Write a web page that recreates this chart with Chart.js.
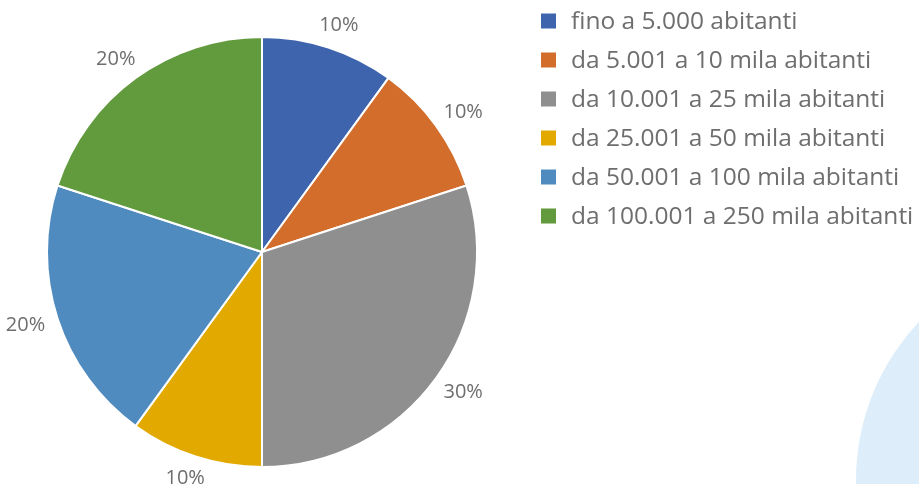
<!DOCTYPE html>
<html>
<head>
<meta charset="utf-8">
<script src="https://cdn.jsdelivr.net/npm/chart.js@4/dist/chart.umd.min.js"></script>
<style>
  html, body { margin: 0; padding: 0; background: #ffffff; }
  #wrap { position: relative; width: 919px; height: 484px; overflow: hidden; }
  #blob { position: absolute; left: 856px; top: 250px; width: 460px; height: 460px; border-radius: 50%; background: #ddeefa; }
  #c { position: absolute; left: 0; top: 0; }
</style>
</head>
<body>
<div id="wrap">
  <div id="blob"></div>
  <canvas id="c" width="919" height="484"></canvas>
</div>
<script>
const categories = [
  "fino a 5.000 abitanti",
  "da 5.001 a 10 mila abitanti",
  "da 10.001 a 25 mila abitanti",
  "da 25.001 a 50 mila abitanti",
  "da 50.001 a 100 mila abitanti",
  "da 100.001 a 250 mila abitanti"
];
const shares = [10, 10, 30, 10, 20, 20];
const valueLabels = ["10%", "10%", "30%", "10%", "20%", "20%"];
const sliceColors = ["#3e64ae", "#d36d2c", "#8f8f90", "#e2a900", "#4f8bbf", "#629a3e"];

const FONT = "'Open Sans', 'DejaVu Sans', sans-serif";
const TEXT_COLOR = "#6e6e6e";

const outsideLabels = {
  id: 'outsideLabels',
  afterDatasetsDraw(chart) {
    const ctx = chart.ctx;
    const meta = chart.getDatasetMeta(0);
    ctx.save();
    ctx.font = "20px " + FONT;
    ctx.fillStyle = TEXT_COLOR;
    ctx.textAlign = 'center';
    ctx.textBaseline = 'middle';
    meta.data.forEach((arc, i) => {
      const p = arc.getProps(['x', 'y', 'startAngle', 'endAngle', 'outerRadius'], true);
      const mid = (p.startAngle + p.endAngle) / 2;
      const dx = Math.cos(mid), dy = Math.sin(mid);
      const txt = valueLabels[i];
      const w = ctx.measureText(txt).width;
      const h = 18;
      const g = 14;
      const x = p.x + dx * (p.outerRadius + g) + dx * w / 2;
      const y = p.y + dy * (p.outerRadius + g) + dy * h / 2;
      ctx.fillText(txt, x, y);
    });
    ctx.restore();
  }
};

const sideLegend = {
  id: 'sideLegend',
  afterDraw(chart) {
    const ctx = chart.ctx;
    const left = chart.chartArea.right + 63;
    const top = 21;
    const step = 39;
    const box = 15;
    ctx.save();
    ctx.font = "24.5px " + FONT;
    ctx.textAlign = 'left';
    ctx.textBaseline = 'middle';
    categories.forEach((name, i) => {
      const cy = top + i * step;
      ctx.fillStyle = sliceColors[i];
      ctx.fillRect(left, cy - box / 2, box, box);
      ctx.fillStyle = TEXT_COLOR;
      ctx.fillText(name, left + 30, cy + 1);
    });
    ctx.restore();
  }
};

new Chart(document.getElementById('c'), {
  type: 'pie',
  data: {
    labels: categories,
    datasets: [{
      data: shares,
      backgroundColor: sliceColors,
      borderColor: '#ffffff',
      borderWidth: 2
    }]
  },
  options: {
    responsive: false,
    animation: false,
    layout: { padding: { left: 46, right: 441, top: 20, bottom: 0 } },
    plugins: {
      tooltip: { enabled: false },
      legend: { display: false }
    }
  },
  plugins: [outsideLabels, sideLegend]
});
</script>
</body>
</html>
